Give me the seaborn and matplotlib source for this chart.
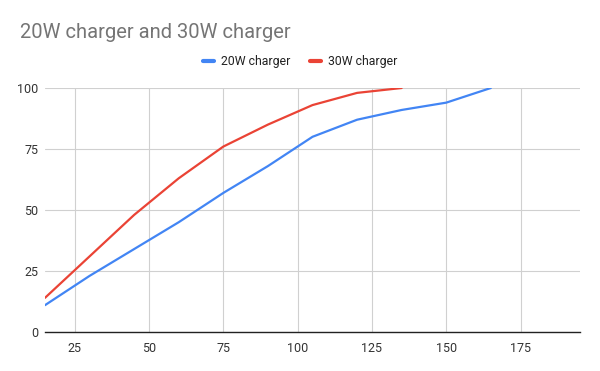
import pandas as pd
import matplotlib
matplotlib.use("Agg")
import matplotlib.pyplot as plt
import seaborn as sns

x_20w = [15, 30, 45, 60, 75, 90, 105, 120, 135, 150, 165]
y_20w = [11, 23, 34, 45, 57, 68, 80, 87, 91, 94, 100]
x_30w = [15, 30, 45, 60, 75, 90, 105, 120, 135]
y_30w = [14, 31, 48, 63, 76, 85, 93, 98, 100]
series_names = ["20W charger", "30W charger"]
colors = ["#4285f4", "#ea4335"]
x_ticks = [25, 50, 75, 100, 125, 150, 175]
y_ticks = [0, 25, 50, 75, 100]

df = pd.concat([
    pd.DataFrame({"x": x_20w, "y": y_20w, "series": series_names[0]}),
    pd.DataFrame({"x": x_30w, "y": y_30w, "series": series_names[1]}),
])

sns.set_style("white")
plt.rcParams["font.family"] = ["Roboto", "DejaVu Sans"]

fig = plt.figure(figsize=(6, 3.71), dpi=100)
ax = fig.add_axes([45 / 600, 1 - 332 / 371, 535 / 600, 244 / 371])

sns.lineplot(data=df, x="x", y="y", hue="series", palette=colors,
             linewidth=1.6, ax=ax, legend=False, sort=False)

ax.set_xlim(15, 195)
ax.set_ylim(0, 100)
ax.set_xticks(x_ticks)
ax.set_yticks(y_ticks)
ax.grid(True, color="#d0d0d0", linewidth=0.8)
ax.set_axisbelow(True)
for s in ["top", "right", "left"]:
    ax.spines[s].set_visible(False)
ax.spines["bottom"].set_color("#222222")
ax.spines["bottom"].set_linewidth(1)
ax.tick_params(axis="both", length=0, labelsize=9, labelcolor="#333333")
ax.tick_params(axis="x", pad=7)
ax.tick_params(axis="y", pad=5)
ax.set_xlabel("")
ax.set_ylabel("")

fig.text(20 / 600, 1 - 38 / 371, "20W charger and 30W charger", fontsize=14.5,
         color="#757575", ha="left", va="baseline")

handles = [plt.Line2D([], [], color=c, linewidth=3) for c in colors]
fig.legend(handles, series_names, loc="center", bbox_to_anchor=(0.5, 1 - 62 / 371),
           ncol=2, frameon=False, fontsize=8.8, handlelength=0.9, handletextpad=0.6,
           columnspacing=1.6, labelcolor="#222222")

fig.savefig("out.png", dpi=100)
